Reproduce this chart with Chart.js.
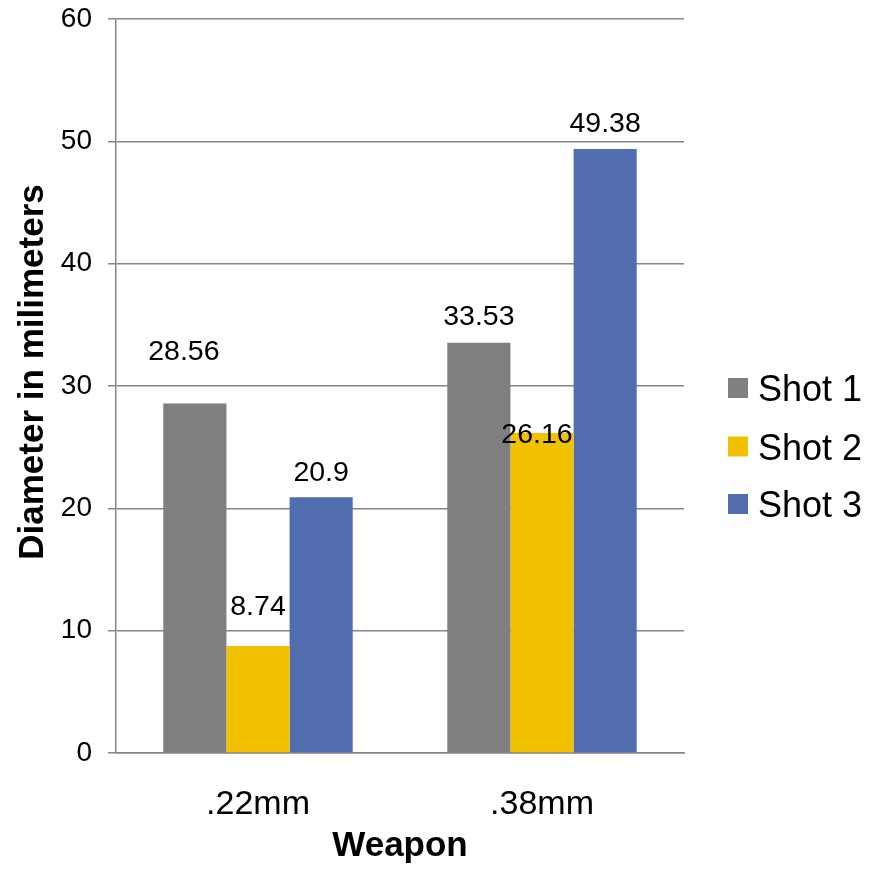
<!DOCTYPE html>
<html>
<head>
<meta charset="utf-8">
<script src="https://cdn.jsdelivr.net/npm/chart.js@4.4.1/dist/chart.umd.min.js"></script>
<style>
  html, body { margin: 0; padding: 0; background: #ffffff; }
  #wrap { width: 881px; height: 870px; }
</style>
</head>
<body>
<div id="wrap"><canvas id="c" width="881" height="870"></canvas></div>
<script>
const categories = ['.22mm', '.38mm'];
const seriesNames = ['Shot 1', 'Shot 2', 'Shot 3'];
const shot1 = [28.56, 33.53];
const shot2 = [8.74, 26.16];
const shot3 = [20.9, 49.38];
const yTicks = [0, 10, 20, 30, 40, 50, 60];
const xTitle = 'Weapon';
const yTitle = 'Diameter in milimeters';

const colors = ['#7F7F7F', '#F2C200', '#526DAF'];
const FONT = '"Liberation Sans", Arial, Helvetica, sans-serif';

// label offsets (dx, dy) of each value label centre relative to its bar top centre
const labelOffsets = [
  [[-11, -54], [0, -28]],
  [[0, -41], [-5, 0]],
  [[0, -26], [0, -27]]
];

const valueLabels = {
  id: 'valueLabels',
  afterDatasetsDraw(chart) {
    const ctx = chart.ctx;
    ctx.save();
    ctx.font = '28.5px ' + FONT;
    ctx.fillStyle = '#000000';
    ctx.textAlign = 'center';
    ctx.textBaseline = 'alphabetic';
    chart.data.datasets.forEach((ds, di) => {
      const meta = chart.getDatasetMeta(di);
      meta.data.forEach((bar, i) => {
        const off = labelOffsets[di][i];
        ctx.fillText(String(ds.data[i]), bar.x + off[0], bar.y + off[1] + 10);
      });
    });
    ctx.restore();
  }
};

const yAxisTitle = {
  id: 'yAxisTitle',
  afterDraw(chart) {
    const ctx = chart.ctx;
    const area = chart.chartArea;
    ctx.save();
    ctx.font = 'bold 35px ' + FONT;
    ctx.fillStyle = '#000000';
    ctx.textAlign = 'center';
    ctx.textBaseline = 'alphabetic';
    ctx.translate(43, (area.top + area.bottom) / 2 - 14);
    ctx.rotate(-Math.PI / 2);
    ctx.fillText(yTitle, 0, 0);
    ctx.restore();
  }
};

const sideLegend = {
  id: 'sideLegend',
  afterDraw(chart) {
    const ctx = chart.ctx;
    const area = chart.chartArea;
    ctx.save();
    ctx.font = '36px ' + FONT;
    ctx.textAlign = 'left';
    ctx.textBaseline = 'alphabetic';
    const x0 = area.right + 44;
    const yc = [388, 446.5, 504];
    chart.data.datasets.forEach((ds, di) => {
      ctx.fillStyle = ds.backgroundColor;
      ctx.fillRect(x0, yc[di] - 10, 20, 20);
      ctx.fillStyle = '#000000';
      ctx.fillText(ds.label, x0 + 30, yc[di] + 13);
    });
    ctx.restore();
  }
};

new Chart(document.getElementById('c'), {
  type: 'bar',
  data: {
    labels: categories,
    datasets: [
      { label: seriesNames[0], data: shot1, backgroundColor: colors[0] },
      { label: seriesNames[1], data: shot2, backgroundColor: colors[1] },
      { label: seriesNames[2], data: shot3, backgroundColor: colors[2] }
    ]
  },
  options: {
    responsive: false,
    animation: false,
    devicePixelRatio: 1,
    layout: { padding: { top: 19, right: 197, left: 0, bottom: 0 } },
    datasets: { bar: { categoryPercentage: 0.667, barPercentage: 1.0 } },
    plugins: {
      legend: { display: false },
      tooltip: { enabled: false }
    },
    scales: {
      x: {
        grid: { display: false, drawTicks: false },
        border: { display: true, color: '#868686', width: 1.5 },
        ticks: { color: '#000000', font: { family: FONT, size: 34 }, padding: 31 },
        title: {
          display: true, text: xTitle, color: '#000000',
          font: { family: FONT, size: 35, weight: 'bold' }, padding: { top: 0, bottom: 3 }
        },
        afterFit(scale) { scale.height = 117; }
      },
      y: {
        min: 0, max: 60,
        afterBuildTicks(scale) { scale.ticks = yTicks.map(v => ({ value: v })); },
        grid: { color: '#868686', lineWidth: 1.5, tickLength: 8, drawTicks: true },
        border: { display: true, color: '#868686', width: 1.5 },
        ticks: { color: '#000000', font: { family: FONT, size: 28 }, padding: 16 },
        title: { display: false },
        afterFit(scale) {
          scale.width = 116;
          scale.paddingTop = 0;
          scale.paddingBottom = 0;
        }
      }
    }
  },
  plugins: [valueLabels, yAxisTitle, sideLegend]
});
</script>
</body>
</html>
